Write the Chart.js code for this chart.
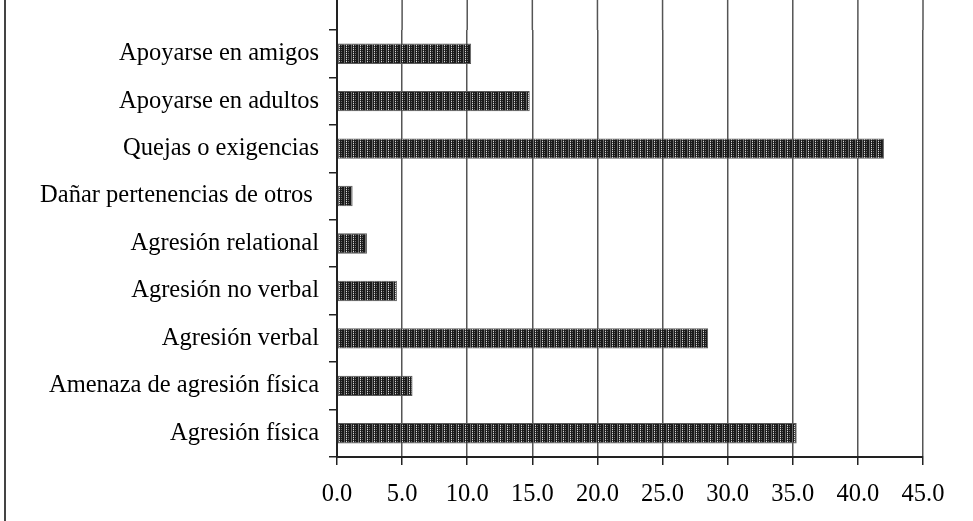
<!DOCTYPE html>
<html>
<head>
<meta charset="utf-8">
<script src="https://cdn.jsdelivr.net/npm/chart.js@4/dist/chart.umd.min.js"></script>
<style>
    html, body { margin: 0; padding: 0; background: #fff; }
    #wrap { position: relative; width: 973px; height: 521px; }
    #frame { position: absolute; left: 4px; top: 0; width: 2px; height: 521px; background: #444; }
</style>
</head>
<body>
<div id="wrap">
    <div id="frame"></div>
    <canvas id="strategies" width="973" height="521"></canvas>
</div>
<script>
const categories = [
    'Apoyarse en amigos',
    'Apoyarse en adultos',
    'Quejas o exigencias',
    'Dañar pertenencias de otros ',
    'Agresión relational',
    'Agresión no verbal',
    'Agresión verbal',
    'Amenaza de agresión física',
    'Agresión física'
];
const percentages = [10.3, 14.8, 42.0, 1.2, 2.3, 4.6, 28.5, 5.8, 35.3];
const tickValues = [0, 5, 10, 15, 20, 25, 30, 35, 40, 45];

// dithered fill like the old spreadsheet bars (mostly vertical stripes)
function makePattern() {
    const p = document.createElement('canvas');
    p.width = 7;
    p.height = 4;
    const c = p.getContext('2d');
    c.fillStyle = '#1a1a1a';
    c.fillRect(0, 0, 7, 4);
    c.fillStyle = '#6a6a6a';
    c.fillRect(1, 0, 1, 4);
    c.fillRect(5, 1, 1, 1);
    c.fillRect(5, 3, 1, 1);
    c.fillStyle = '#464646';
    c.fillRect(3, 0, 1, 4);
    c.fillStyle = '#d8d8d8';
    c.fillRect(3, 1, 1, 1);
    c.fillRect(3, 3, 1, 1);
    return c.createPattern(p, 'repeat');
}

// gridlines and axis run up to the top edge of the picture
const extendGrid = {
    id: 'extendGrid',
    beforeDatasetsDraw(chart) {
        const ctx = chart.ctx;
        const x = chart.scales.x;
        const top = chart.chartArea.top;
        ctx.save();
        ctx.strokeStyle = '#555';
        ctx.lineWidth = 1.5;
        tickValues.forEach(v => {
            const px = x.getPixelForValue(v);
            ctx.beginPath();
            ctx.moveTo(px, 0);
            ctx.lineTo(px, top);
            ctx.stroke();
        });
        ctx.strokeStyle = '#222';
        ctx.lineWidth = 2;
        const px0 = x.getPixelForValue(0);
        ctx.beginPath();
        ctx.moveTo(px0, 0);
        ctx.lineTo(px0, top);
        ctx.stroke();
        ctx.restore();
    }
};

const font = { family: '"Liberation Serif", "Times New Roman", serif', size: 24.5 };

new Chart(document.getElementById('strategies'), {
    type: 'bar',
    data: {
        labels: categories,
        datasets: [{
            data: percentages,
            backgroundColor: makePattern(),
            borderColor: '#5a5a5a',
            borderWidth: 1,
            borderSkipped: false,
            categoryPercentage: 1,
            barPercentage: 0.43
        }]
    },
    options: {
        indexAxis: 'y',
        responsive: false,
        animation: false,
        layout: { padding: { top: 30, left: 0, right: 50, bottom: 0 } },
        plugins: {
            legend: { display: false },
            tooltip: { enabled: false }
        },
        scales: {
            x: {
                min: 0,
                max: 45,
                afterBuildTicks: scale => {
                    scale.ticks = tickValues.map(v => ({ value: v }));
                },
                afterFit: scale => { scale.height = 64; },
                ticks: {
                    color: '#000',
                    font: font,
                    padding: 15,
                    maxRotation: 0,
                    callback: v => Number(v).toFixed(1)
                },
                grid: {
                    color: '#555',
                    lineWidth: 1.5,
                    tickLength: 8,
                    tickColor: '#222'
                },
                border: { color: '#222', width: 2 }
            },
            y: {
                afterFit: scale => { scale.width = 337; },
                ticks: {
                    color: '#000',
                    font: font,
                    padding: 10
                },
                grid: {
                    drawOnChartArea: false,
                    tickLength: 8,
                    tickColor: '#222',
                    lineWidth: 1.5
                },
                border: { color: '#222', width: 2 }
            }
        }
    },
    plugins: [extendGrid]
});
</script>
</body>
</html>
